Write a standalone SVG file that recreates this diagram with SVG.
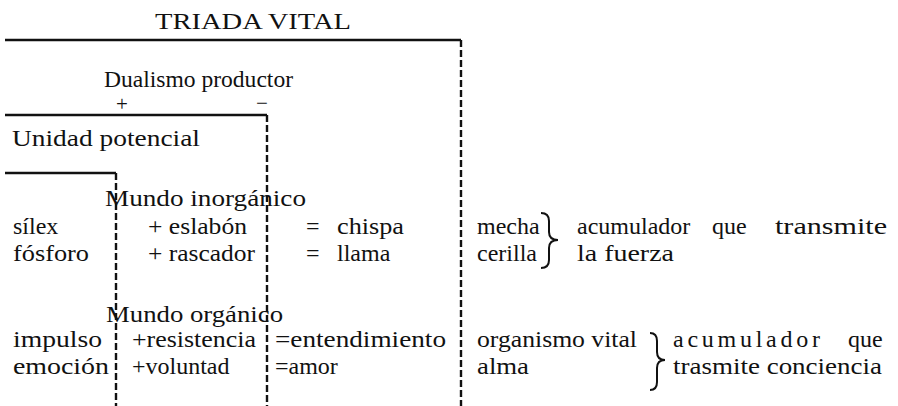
<svg xmlns="http://www.w3.org/2000/svg" width="898" height="406" viewBox="0 0 898 406">
<style>
text{font-family:"Liberation Serif","Times New Roman",serif;font-size:24px;fill:#111}
.sign{font-size:21px}
.solid{stroke:#111;stroke-width:2.4;fill:none}
.dash{stroke:#111;stroke-width:2.4;fill:none;stroke-dasharray:7 3}
.brace{stroke:#111;stroke-width:2;fill:none}
</style>
<rect width="898" height="406" fill="#fff"/>
<g id="connectors">
<path class="solid" d="M5 40 H461"/>
<path class="dash" d="M461 40 V406"/>
<path class="solid" d="M5 115 H267"/>
<path class="dash" d="M267 115 V406"/>
<path class="solid" d="M5 173 H116"/>
<path class="dash" d="M116 173 V406"/>
<path class="brace" d="M541 213 Q549 213 549 221 V232 Q549 240 558 240 Q549 240 549 248 V260 Q549 268 541 268"/>
<path class="brace" d="M650 333 Q657 333 657 341 V352 Q657 360 665 360 Q657 360 657 368 V382 Q657 390 650 390"/>
</g>
<g id="title"><text x="155" y="29" textLength="196" lengthAdjust="spacingAndGlyphs">TRIADA VITAL</text></g>
<g id="dualismo">
<text x="104" y="87" textLength="189" lengthAdjust="spacingAndGlyphs">Dualismo productor</text>
<text class="sign" x="116" y="111">+</text>
<text class="sign" x="256" y="110">−</text>
</g>
<g id="unidad"><text x="12" y="146" textLength="188" lengthAdjust="spacingAndGlyphs">Unidad potencial</text></g>
<g id="inorganico">
<text x="105" y="206" textLength="201" lengthAdjust="spacingAndGlyphs">Mundo inorgánico</text>
<text x="13" y="234">sílex</text>
<text x="13" y="261" textLength="76" lengthAdjust="spacingAndGlyphs">fósforo</text>
<text x="148" y="234" textLength="99" lengthAdjust="spacingAndGlyphs">+ eslabón</text>
<text x="148" y="261" textLength="107" lengthAdjust="spacingAndGlyphs">+ rascador</text>
<text x="306" y="234">=</text>
<text x="306" y="261">=</text>
<text x="337" y="234" textLength="67" lengthAdjust="spacingAndGlyphs">chispa</text>
<text x="337" y="261">llama</text>
<text x="477" y="234">mecha</text>
<text x="477" y="261">cerilla</text>
<text x="577" y="234">acumulador</text>
<text x="712" y="234">que</text>
<text x="775" y="234" textLength="112" lengthAdjust="spacingAndGlyphs">transmite</text>
<text x="577" y="261" textLength="97" lengthAdjust="spacingAndGlyphs">la fuerza</text>
</g>
<g id="organico">
<text x="106" y="322" textLength="177" lengthAdjust="spacingAndGlyphs">Mundo orgánico</text>
<text x="13" y="347" textLength="89" lengthAdjust="spacingAndGlyphs">impulso</text>
<text x="13" y="374" textLength="96" lengthAdjust="spacingAndGlyphs">emoción</text>
<text x="132" y="347" textLength="124" lengthAdjust="spacingAndGlyphs">+resistencia</text>
<text x="132" y="374">+voluntad</text>
<text x="275" y="347" textLength="171" lengthAdjust="spacingAndGlyphs">=entendimiento</text>
<text x="275" y="374">=amor</text>
<text x="477" y="347" textLength="160" lengthAdjust="spacingAndGlyphs">organismo vital</text>
<text x="477" y="374" textLength="52" lengthAdjust="spacingAndGlyphs">alma</text>
<text x="673" y="347" textLength="147">acumulador</text>
<text x="848" y="347">que</text>
<text x="673" y="374" textLength="209" lengthAdjust="spacingAndGlyphs">trasmite conciencia</text>
</g>
</svg>
